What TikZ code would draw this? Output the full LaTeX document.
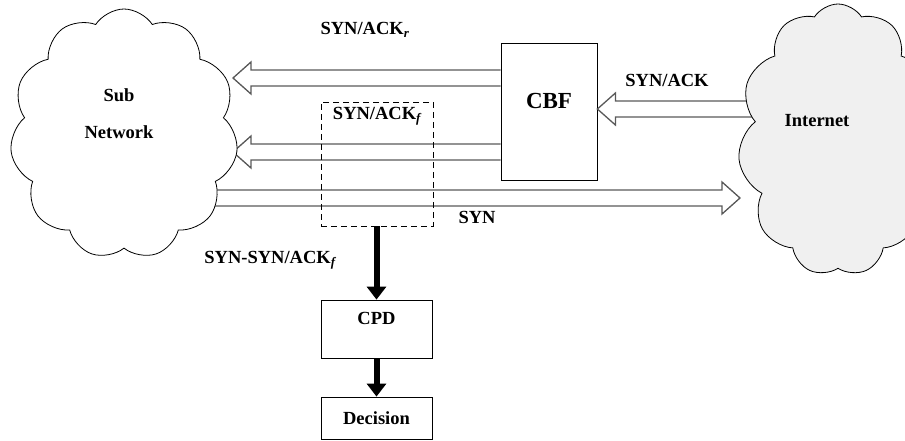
\documentclass[tikz,border=0pt]{standalone}
\usepackage{fontspec}
\setmainfont{Liberation Serif}
\usetikzlibrary{shapes.symbols,calc,arrows.meta}
\tikzstyle{txt} = [font=\fontsize{18.5}{21}\selectfont\bfseries, align=center]
\tikzstyle{box} = [draw, line width=0.8pt, rectangle, inner sep=0pt]
\tikzstyle{puff} = [draw, line width=0.8pt, cloud, cloud puffs=11, cloud puff arc=115, inner sep=0pt]
\tikzstyle{fat} = [draw=black!65, line width=1.3pt, line join=miter]
\tikzstyle{thick} = [line width=6pt, -{Triangle[length=13pt,width=19pt]}]
\newcommand{\fatarrow}[2]{%
  \path ($(#2)!18pt!(#1)$) coordinate (hb);
  \draw[fat] ($(#1)!8pt!90:(#2)$) -- ($(hb)!8pt!90:(#2)$) -- ($(hb)!16pt!90:(#2)$)
    -- (#2) -- ($(hb)!16pt!-90:(#2)$) -- ($(hb)!8pt!-90:(#2)$) -- ($(#1)!8pt!-90:(#2)$);
}

\begin{document}
\begin{tikzpicture}[x=1pt,y=-1pt]
  \useasboundingbox (0,0) rectangle (905,441);
  \node [box, minimum width=96pt, minimum height=137pt,
    label={[txt, font=\fontsize{23}{25}\selectfont\bfseries, yshift=11pt]center:CBF}] (cbf) at (549,111.5) {};
  \node [box, minimum width=111pt, minimum height=58pt,
    label={[txt, yshift=11pt]center:CPD}] (cpd) at (376.5,329) {};
  \node [box, minimum width=111pt, minimum height=42pt] (dec) at (376.5,418) {};
  \node [txt] (dectxt) at (dec) {Decision};

  % hollow arrows
  \coordinate (tipA) at (233,78);
  \coordinate (tipB) at (233,152);
  \coordinate (synS) at (180,198);
  \coordinate (synE) at (740,198);
  \coordinate (ackS) at (760,109);
  \fatarrow{cbf.west |- tipA}{tipA}
  \fatarrow{cbf.west |- tipB}{tipB}
  \fatarrow{synS}{synE}
  \fatarrow{ackS}{cbf.east |- ackS}

  % clouds on top of the arrow ends
  \node [puff, fill=white, minimum width=228pt, minimum height=250pt, aspect=0.9] (sub) at (124,134) {};
  \node [txt] (subtxt) at (119,114) {Sub\\[16pt]Network};
  \node [puff, fill=gray!12, minimum width=200pt, minimum height=272pt, aspect=0.75] (net) at (838,140) {};
  \node [txt] (nettxt) at (817,121) {Internet};

  \node [box, dash pattern=on 6pt off 4pt, minimum width=112pt, minimum height=124pt,
    label={[txt, below, yshift=-2pt]north:SYN/ACK\textsubscript{\itshape f}}] (dash) at (377,164) {};
  \draw [thick] (dash.south -| cpd) -- (cpd.north);
  \draw [thick] (cpd.south) -- (dec.north);

  \node [txt] (lr) at (365,30) {SYN/ACK\textsubscript{\itshape r}};
  \node [txt] (lack) at (667,80) {SYN/ACK};
  \node [txt] (lsyn) at (477,217) {SYN};
  \node [txt] (lsf) at (270,260) {SYN-SYN/ACK\textsubscript{\itshape f}};
\end{tikzpicture}
\end{document}
